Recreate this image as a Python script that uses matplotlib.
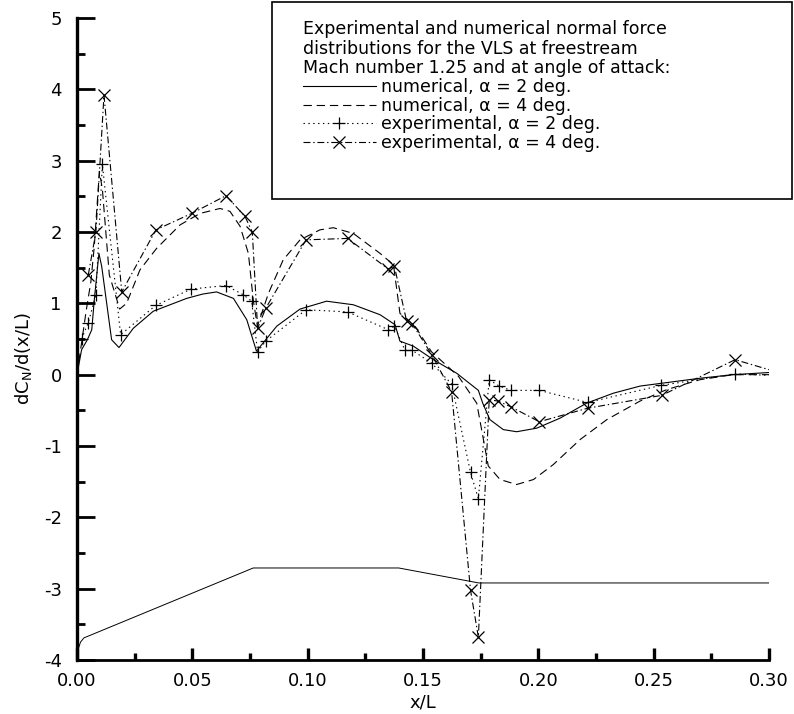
import matplotlib
matplotlib.use('Agg')
import matplotlib.pyplot as plt
from matplotlib.patches import Rectangle
from matplotlib.ticker import MultipleLocator

# the reference is a horizontally stretched Arial; DejaVu Sans is the widest face at hand
plt.rcParams['font.family'] = ['DejaVu Sans']
plt.rcParams['mathtext.fontset'] = 'dejavusans'
plt.rcParams['axes.unicode_minus'] = False
plt.rcParams['lines.scale_dashes'] = False

# numerical, alpha = 2 deg (solid)
num2_x = [0.0, 0.002, 0.0045, 0.0064, 0.0075, 0.0095, 0.0107, 0.015, 0.0182, 0.0244,
          0.0331, 0.0476, 0.0545, 0.0605, 0.0678, 0.0736, 0.0778, 0.0866, 0.0967, 0.1082,
          0.1198, 0.1314, 0.1379, 0.140, 0.1458, 0.1545, 0.1646, 0.174, 0.1759, 0.179,
          0.1848, 0.1906, 0.1993, 0.2094, 0.2209, 0.2325, 0.2441, 0.2701, 0.2845, 0.30]
num2_y = [0.0, 0.35, 0.49, 0.63, 1.05, 1.70, 1.52, 0.49, 0.38, 0.65,
          0.89, 1.07, 1.13, 1.16, 1.07, 0.77, 0.33, 0.68, 0.92, 1.03,
          0.98, 0.84, 0.70, 0.47, 0.40, 0.21, 0.02, -0.22, -0.40, -0.63,
          -0.77, -0.80, -0.75, -0.61, -0.40, -0.26, -0.16, -0.05, 0.0, 0.03]

# numerical, alpha = 4 deg (dashed)
num4_x = [0.0, 0.002, 0.004, 0.006, 0.0075, 0.0097, 0.011, 0.014, 0.0185, 0.0215,
          0.0273, 0.0345, 0.0447, 0.0533, 0.062, 0.0663, 0.0707, 0.0743, 0.0764, 0.0782,
          0.083, 0.0894, 0.0967, 0.1053, 0.1111, 0.1198, 0.1314, 0.1372, 0.140, 0.1465,
          0.1537, 0.1653, 0.1733, 0.1762, 0.1783, 0.1834, 0.1906, 0.1979, 0.2065, 0.2181,
          0.2297, 0.2441, 0.2556, 0.2701, 0.2845, 0.30]
num4_y = [0.0, 0.45, 0.9, 1.3, 1.8, 2.85, 2.6, 1.4, 0.92, 1.0,
          1.47, 1.77, 2.10, 2.26, 2.33, 2.29, 2.08, 1.70, 1.05, 0.68,
          1.14, 1.61, 1.89, 2.03, 2.06, 1.98, 1.70, 1.54, 0.86, 0.68,
          0.32, -0.02, -0.40, -0.91, -1.28, -1.47, -1.54, -1.47, -1.26, -0.91,
          -0.63, -0.37, -0.21, -0.07, 0.0, 0.0]

# experimental, alpha = 2 deg (+)
exp2_x = [0.002, 0.0049, 0.0082, 0.011, 0.0189, 0.0341, 0.0494, 0.0646, 0.0721, 0.0757,
          0.0783, 0.0818, 0.0993, 0.1173, 0.135, 0.1376, 0.1422, 0.1454, 0.1538, 0.1624,
          0.1706, 0.174, 0.1787, 0.183, 0.1881, 0.2004, 0.2214, 0.2532, 0.2853, 0.30]
exp2_y = [0.50, 0.73, 1.12, 2.95, 0.56, 0.97, 1.20, 1.25, 1.12, 1.03,
          0.32, 0.47, 0.91, 0.88, 0.63, 0.68, 0.34, 0.34, 0.16, -0.13,
          -1.37, -1.74, -0.07, -0.16, -0.22, -0.22, -0.39, -0.15, 0.01, -0.01]

# experimental, alpha = 4 deg (x)
exp4_x = [0.0049, 0.0082, 0.0117, 0.0194, 0.0342, 0.0497, 0.0646, 0.0728, 0.076, 0.0783,
          0.0818, 0.0993, 0.1173, 0.135, 0.1376, 0.1429, 0.1454, 0.1538, 0.1624, 0.1706,
          0.174, 0.1787, 0.1824, 0.1881, 0.2004, 0.2214, 0.2535, 0.2853, 0.30]
exp4_y = [1.40, 2.0, 3.92, 1.16, 2.03, 2.26, 2.51, 2.22, 2.0, 0.65,
          0.93, 1.89, 1.91, 1.48, 1.52, 0.75, 0.71, 0.28, -0.24, -3.02,
          -3.68, -0.35, -0.37, -0.45, -0.66, -0.47, -0.29, 0.21, 0.07]

# vehicle profile drawn at the bottom
body_x = [0.0, 0.0005, 0.0015, 0.003, 0.006, 0.0764, 0.1395, 0.1742, 0.30]
body_y = [-4.0, -3.85, -3.75, -3.69, -3.65, -2.71, -2.71, -2.92, -2.92]

legend_title = ('Experimental and numerical normal force\n'
                'distributions for the VLS at freestream\n'
                'Mach number 1.25 and at angle of attack:')
labels = ['numerical, α = 2 deg.', 'numerical, α = 4 deg.',
          'experimental, α = 2 deg.', 'experimental, α = 4 deg.']

fig = plt.figure(figsize=(7.94, 7.14), dpi=100)
ax = fig.add_axes([77 / 794, 1 - 660 / 714, 692 / 794, 642 / 714])

lw = 0.8
h1, = ax.plot(num2_x, num2_y, color='black', lw=lw, ls='-')
h2, = ax.plot(num4_x, num4_y, color='black', lw=lw, ls=(0, (6, 3.5)))
h3, = ax.plot(exp2_x, exp2_y, color='black', lw=lw, ls=(0, (1, 2.5)),
              marker='+', ms=9, mew=0.9, markevery=list(range(len(exp2_x) - 1)))
h4, = ax.plot(exp4_x, exp4_y, color='black', lw=lw, ls=(0, (5, 2, 1, 2)),
              marker='x', ms=8, mew=0.9, markevery=list(range(len(exp4_x) - 1)))
ax.plot(body_x, body_y, color='black', lw=0.7)

ax.set_xlim(0, 0.30)
ax.set_ylim(-4, 5)
ax.xaxis.set_major_locator(MultipleLocator(0.05))
ax.xaxis.set_minor_locator(MultipleLocator(0.025))
ax.yaxis.set_major_locator(MultipleLocator(1))
ax.yaxis.set_minor_locator(MultipleLocator(0.5))
ax.xaxis.set_major_formatter(plt.FormatStrFormatter('%.2f'))

for s in ['top', 'right']:
    ax.spines[s].set_visible(False)
ax.spines['left'].set_linewidth(2.4)
ax.spines['bottom'].set_linewidth(2)

ax.tick_params(axis='both', which='both', direction='in', labelsize=13)
ax.tick_params(axis='y', which='major', length=13, width=2, pad=11)
ax.tick_params(axis='y', which='minor', length=6, width=2)
ax.tick_params(axis='x', which='major', length=9, width=2.4, pad=9)
ax.tick_params(axis='x', which='minor', length=5, width=2.4)

ax.set_xlabel('x/L', fontsize=13, labelpad=2)
ax.set_ylabel('dC$_\\mathregular{N}$/d(x/L)', fontsize=13)
ax.yaxis.set_label_coords(-0.062, 0.47)

box = Rectangle((272 / 794, 1 - 199 / 714), 520 / 794, 197 / 714,
                transform=fig.transFigure, facecolor='white', edgecolor='black',
                lw=1.2, zorder=3)
fig.add_artist(box)

leg = fig.legend([h1, h2, h3, h4], labels, title=legend_title,
                 loc='upper left', bbox_to_anchor=(303 / 794, 1 - 20 / 714),
                 frameon=False, fontsize=12.5, title_fontsize=12.5,
                 alignment='left', handlelength=4.2, handletextpad=0.3,
                 labelspacing=0.04, borderpad=0, borderaxespad=0, numpoints=1)
leg.get_title().set_linespacing(1.12)
leg.set_zorder(4)

fig.savefig('out.png', dpi=100)
